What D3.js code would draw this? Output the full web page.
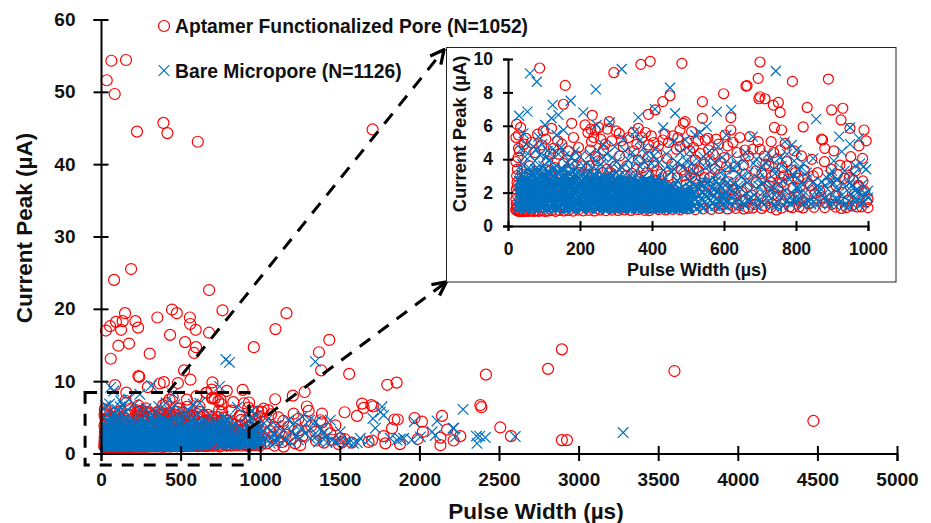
<!DOCTYPE html>
<html>
<head>
<meta charset="utf-8">
<script src="https://cdn.jsdelivr.net/npm/d3@7"></script>
<style>
  body { margin: 0; background: #fff; }
  text { font-family: "Liberation Sans", Arial, sans-serif; font-weight: bold; fill: #111; }
</style>
</head>
<body>
<svg id="chart" width="931" height="523"></svg>
<script>
// [pulse width us, current peak uA]
const aptamerHigh = [
  [36,51.6],[65,54.3],[157,54.4],[86,49.7],[226,44.5],[392,45.7],[417,44.3],[608,43.1],[1706,44.8],
  [82,24],[189,25.5],[679,22.6],[31,17],[57,17.6],[94,18.2],[136,18.3],[151,19.4],[126,17.1],[216,18.3],[233,17.4],
  [109,14.9],[176,15.2],[61,13.1],[354,18.8],[446,19.9],[476,19.4],[434,16.4],[558,18.8],[560,17.9],[595,17.1],
  [528,15.4],[597,14.7],[585,13.9],[679,16.7],[763,19.8],[306,13.8],[522,11.5],[1096,17.2],[1165,19.4],[960,14.7],
  [1369,14],[1434,15.7],[1383,11.5],[1559,11],[1798,9.5],[1857,9.8],[235,10.7],[241,10.6],[562,10.2],
  [2895,14.4],[2808,11.7],[2418,10.9],[3602,11.4],[4475,4.5],[2383,6.7],[2389,6.4],[2508,3.6],[2575,2.4],[2895,1.85],[2927,1.85],
  [2257,2.4],[2215,1.8],[2174,3.3],[2142,5.2],[2132,1.15]
];
const aptamerWide = [
  [1094,7.5],[1205,8],[1279,8.5],[1530,5.7],[1608,5.2],[1640,6.9],[1650,6.3],[1698,6.7],[1708,6.5],[1843,4.7],[1864,4.7],
  [1828,3.5],[1775,2.4],[1786,1.4],[1878,1.3],[1681,1.6],[1702,1.8],[1970,4.9],[2016,4.4],[2022,3],[1989,2],[2132,2.2],
  [1293,6.5],[1304,5.9],[1210,5.5],[1388,5.5],[1377,4.6],[1388,4.3],[1472,3.9],[1503,2.1],[1514,1.6],[1493,1.3],[1147,0.95],
  [1021,6.2],[1010,5.8],[1115,5],[1145,4.5],[1241,3.2],[1251,1.15],[1136,1.6],[1073,2.3],[1346,3],[1440,2.8],[1050,6],[1068,5.4],
  [1030,4.4],[1085,3.6],[1120,3],[1160,2.6],[1190,2],[1220,1.4],[1040,1.4],[1090,1.1],[1175,3.7],[1265,2.4],[1320,3.8],[1350,1.8],
  [1400,1.5],[1455,1.9],[1420,3.4],[1285,4.5],[1240,4.8],[1060,3.1],[1110,1.8],[1575,1.5],[1530,2]
];
const aptamerScatter = [
  [88,9.46],[159,8.42],[294,9.18],[369,9.68],[395,9.86],[483,9.74],[154,7.29],[450,7.8],[430,7.45],[409,6.95],[390,6.69],[234,6.63],
  [24,6.1],[177,6.15],[214,6.05],[230,5.8],[242,5.75],[281,6.25],[276,5.8],[29,5.45],[22,5.3],[50,5.25],[98,5.7],[121,5.85],
  [309,5.55],[320,4.75],[362,5.85],[487,6.15],[478,5.75],[430,5.15],[390,4.85],[413,4.35],[232,5.05],[228,4.55],[242,4.15],[265,4.55],
  [29,4.65],[22,3.85],[94,4.85],[126,4.65],[154,3.75],[297,3.55],[344,3.15],[362,3.95],[441,4.05],[482,3.35],[478,4.75],[390,4.15],
  [700,9.82],[695,8.84],[790,8.66],[890,8.8],[664,8.4],[661,8.38],[599,7.92],[700,7.74],[697,7.62],[714,7.62],[540,7.45],[737,7.24],
  [751,7.4],[756,6.8],[831,7.1],[899,6.95],[930,7.05],[925,6.35],[619,6.49],[540,6.45],[820,5.93],[950,5.85],[989,5.75],[740,5.9],
  [760,5.75],[995,5.1],[975,4.8],[871,5.2],[874,5.15],[880,4.65],[844,3.99],[879,3.85],[952,4.15],[985,4.05],[922,3.65],[941,3.6],
  [958,2.8],[935,2.85],[975,2.35],[731,5.05],[695,5.05],[672,5.35],[658,4.55],[619,5.75],[603,5.45],[644,5.3],[555,5.25],[548,5.15],
  [510,5.65],[492,6.25],[756,4.55],[770,4.95],[742,3.15],[732,2.95],[728,2.65],[705,3.15],[654,3.65],[631,3.55],[607,3.55],[534,4.35],
  [520,3.95],[557,4.55],[520,2.85],[510,2.95],[806,2.85],[823,3.35],[788,3.35],[774,3.85],[746,0.96],[668,1.06],[640,1.25],[631,1.95],
  [649,2.05],[645,2.65],[612,2.65],[677,1.85],[705,2.15],[782,1.15],[809,1.15],[836,1.35],[853,1.95],[926,1.05],[982,1.15],[996,1.45],
  [945,1.55],[973,2.45],[806,1.75],[783,1.65],[570,4.3],[585,4.9],[600,4.1],[625,5],[680,4.6],[712,4.2],[725,3.6],[765,3],[795,4.5],
  [815,4.2],[660,3.1],[690,2.6],[750,2.3],[860,3.2],[905,4.5],[915,3.1],[965,3.3],[990,2.1],[840,2.4],[870,1.7],[900,1.3],[955,1.2],
  [60,3.6],[75,4.4],[110,3.9],[140,4.3],[170,3.4],[190,4.2],[205,3.6],[250,3.9],[285,3.2],[310,4.2],[330,3.6],[350,4.5],[375,3.5],
  [405,3.6],[425,3.1],[455,3.7],[470,2.9],[500,3.6],[505,4.5],[530,3.3],[560,2.9],[590,3.1]
];
const aptamerExtra = [
  [35,5.9],[45,4.9],[65,5.0],[82,5.5],[105,5.2],[118,4.3],[138,5.1],[150,4.9],[168,4.5],[182,5.3],[196,4.7],[222,5.6],[238,5.3],[252,5.9],
  [258,5.2],[270,4.9],[288,5.1],[300,5.7],[315,5.1],[335,5.3],[348,5.6],[358,4.9],[372,5.3],[382,5.6],[398,5.4],[405,5.0],[418,4.8],[436,5.5],
  [446,5.0],[458,5.4],[468,4.6],[472,5.3],[498,5.0],[515,4.7],[528,5.1],[546,3.7],[562,3.9],[578,5.2],[592,3.8],[610,4.8],[636,4.4],[668,4.2],
  [688,3.3],[700,4.6],[716,3.7],[738,4.4],[748,4.0],[762,3.5],[778,2.8],[798,3.2],[812,2.4],[832,2.6],[848,3.0],[866,2.1],[888,2.6],[898,3.4],
  [912,2.4],[930,2.0],[948,2.9],[962,1.9],[986,2.7],[1000,1.6],[725,2.4],[738,1.9],[760,2.6],[770,1.9],[792,2.3],[652,1.5],[686,1.3],[714,1.2],
  [600,1.3],[622,1.6],[664,2.3],[600,2.3],[575,3.4],[545,2.9],[515,3.4],[490,3.0],[445,3.0],[415,3.3],[385,3.2],[355,3.0],[325,3.0],[275,3.4],
  [262,3.2],[225,3.6],[180,3.7],[130,3.5],[90,3.3],[40,3.1],[26,2.4],[28,4.1],[32,4.5]
];
const aptamerDense = [
  [22,1.0],[23,1.3],[22,1.6],[24,1.9],[23,2.2],[25,2.6],[24,3.0],[26,3.4],[22,0.95],[25,1.15],[27,0.9],[30,0.88],[33,0.92],[37,0.86],
  [41,0.9],[46,0.87],[52,0.91],[58,0.88],[64,0.92],[71,0.87],[78,0.9],[86,0.88],[94,0.92],[103,0.87],[112,0.9],[121,0.93],[132,0.88],
  [143,0.94],[155,0.9],[168,0.93],[181,0.89],[195,0.95],[209,0.91],[224,0.94],[240,0.9],[256,0.96],[272,0.92],[289,0.95],[306,0.93],
  [324,0.97],[342,0.93],[361,0.98],[380,0.94],[393,0.92],[418,0.98],[438,0.96],[458,1.0],[478,0.97],[499,1.02],[520,0.98],[542,1.03],
  [565,1.0],[587,1.05],[610,1.02],[633,1.06],[655,1.02],[680,1.08],[705,1.05],[730,1.1],[760,1.07],[790,1.1],[820,1.08],[850,1.12],
  [880,1.1],[910,1.13],[940,1.1],[970,1.14],[1000,1.1],[35,2.3],[48,2.9],[62,2.2],[80,3.1],[98,2.6],[118,3.3],[135,2.4],[152,3.0],
  [175,2.5],[198,3.2],[220,2.7],[245,3.1],[268,2.4],[292,3.0],[318,2.6],[338,2.3],[365,2.8],[388,2.2],[412,2.7],[440,2.4],[465,2.1],
  [495,2.5],[515,2.0],[545,2.4],[575,2.0],[600,1.7],[622,2.2],[660,1.6],[720,1.5],[750,1.8],[820,1.5],[880,1.4],[910,1.8]
];
const bareScatter = [
  [61,9.14],[80,8.64],[316,9.4],[244,8.18],[450,8.28],[174,7.5],[124,7.25],[209,6.8],[54,6.85],[31,6.6],[140,6.65],[121,6.45],[103,6.05],
  [154,5.75],[135,5.45],[246,6.05],[283,6.2],[362,6.5],[408,7],[464,6.75],[431,5.9],[353,5.65],[320,5.2],[265,4.85],[367,5.15],[376,4.65],
  [297,4.75],[459,5.05],[492,5.15],[186,4.45],[84,5.35],[43,5.55],[70,4.75],[47,4.15],[89,4.25],[117,3.95],[163,3.75],[200,4.15],[219,3.75],
  [265,4.15],[302,3.85],[334,3.95],[367,3.55],[399,3.75],[431,3.35],[455,3.25],[487,3.55],[744,9.28],[620,6.95],[580,6.85],[856,6.4],[950,5.9],
  [920,5.35],[975,5.25],[680,5.35],[607,5.45],[533,5.6],[552,5.95],[520,5.45],[788,4.85],[769,5.05],[802,4.55],[927,4.45],[987,3.55],[978,3.75],
  [894,3.05],[871,2.65],[848,4.05],[820,3.75],[723,4.35],[682,3.75],[621,4.15],[584,4.75],[543,4.15],[510,3.75],[612,3.55],[566,3.35],[649,2.95],
  [696,2.85],[742,3.15],[779,3.35],[806,2.85],[40,3.7],[58,3.5],[75,3.9],[98,3.6],[110,4.5],[140,4.3],[130,3.5],[175,4.1],[152,3.4],[190,3.5],
  [235,3.5],[250,4.5],[280,3.6],[318,3.5],[345,4.4],[385,4.3],[410,4.6],[440,4.3],[470,3.8],[500,3.2],[525,3.1],[555,3.9],[590,3.2],[635,3.7],
  [660,4.4],[705,3.5],[755,4.1],[795,3.9],[830,3.2],[905,3.9],[950,4.9],[960,3.1],[1000,2.1],[995,3.4]
];
const bareUpper = [
  [36,4.6],[52,4.9],[62,4.2],[78,4.6],[95,4.9],[105,4.1],[125,4.6],[148,4.7],[158,4.2],[170,3.6],[185,3.9],[210,3.6],[228,4.3],[242,3.9],
  [258,3.7],[275,4.3],[290,4.1],[308,3.4],[325,4.5],[340,3.4],[355,4.0],[378,3.9],[392,3.3],[405,4.2],[420,3.8],[445,3.6],[462,3.4],[478,4.4],
  [495,3.9],[505,4.5],[515,3.3],[530,3.9],[548,3.5],[560,4.5],[575,3.8],[595,4.1],[605,3.0],[628,3.4],[640,3.1],[655,3.9],[668,3.2],[690,4.0],
  [700,3.2],[715,3.8],[730,4.0],[738,3.4],[760,3.6],[775,4.3],[790,3.1],[810,3.4],[835,2.9],[860,2.4],[885,2.9],[900,3.3],[915,2.8],[935,3.3],
  [950,2.6],[965,3.6],[985,2.5],[35,3.4],[68,3.2],[85,3.4],[112,3.3],[145,3.4],[180,3.3],[215,3.2],[250,3.3],[285,3.1],[310,3.0],[350,3.0],
  [375,2.9],[410,2.8],[435,2.9],[470,2.7],[505,2.7],[535,2.6],[560,2.7],[585,2.5],[610,2.6],[640,2.4],[670,2.7],[705,2.5],[735,2.4],[765,2.7],
  [800,2.3],[820,2.5],[845,2.6],[870,2.2],[895,2.6],[925,2.6],[955,2.4],[975,2.1],[600,1.8],[625,2.1],[655,1.3],[675,1.7],[705,1.4],[725,1.8],
  [745,1.2],[760,2.0],[790,1.5],[810,1.9],[825,1.4],[855,1.3],[880,1.7],[905,1.3],[925,1.5],[945,1.2],[965,1.7],[985,1.4],[1000,1.7]
];
const bareWide = [
  [1346,12.7],[784,13],[807,12.6],[1765,6.45],[1755,5.75],[1776,5.3],[1708,4.85],[1723,3.5],[1968,4.4],[2111,4.5],[2080,3],[2100,2.5],[2216,3.5],
  [2274,6.1],[1901,2.1],[1859,1.85],[1817,2.1],[1880,2],[1953,1.9],[2006,2.3],[1681,1.85],[1629,2.1],[1587,1.4],[1545,1.6],[1503,1.85],[1440,4.6],
  [1346,4.4],[1262,5.1],[1210,4.1],[1178,4.6],[1503,3],[1398,2.8],[1367,1.6],[1451,1.85],[1314,2.1],[1283,2.8],[1231,2.5],[1147,3.2],[1084,2.8],
  [1042,4.6],[1031,2.1],[1115,1.85],[1189,1.6],[1063,1.4],[3280,2.9],[2602,2.35],[2414,2.2],[2379,2.4],[2358,2.4],[2362,1.4],[2211,3.5],[2226,2.3],
  [1010,1.5],[1025,3.2],[1050,3.6],[1070,2.2],[1095,1.6],[1125,2.6],[1100,3.9],[1160,1.9],[1200,3],[1240,1.9],[1260,3.5],[1320,3.4],[1350,2.3],
  [1410,2.2],[1475,1.6],[1420,1.5],[1560,1.5],[1610,1.5],[1310,4.6],[1380,3.5]
];
const bareLeft = [
  [31,1.1],[36,1.5],[33,2.0],[38,2.5],[30,1.3],[35,1.8],[40,1.2],[34,2.2],[39,2.9],[42,1.6],[37,3.1],[44,2.0],[32,2.7],[41,2.3],[46,1.1],
  [48,1.4],[45,1.8],[50,2.2],[47,2.6],[52,3.0],[49,1.2],[54,1.6],[51,2.0],[56,2.4],[53,2.8],[58,3.3],[55,1.05],[60,1.3],[57,1.75],[62,2.15],
  [59,2.55],[64,2.95],[61,1.5],[66,1.15],[63,1.9],[68,2.3],[65,2.7],[70,3.1],[67,1.35],[72,1.7],[69,2.1],[74,2.5],[71,2.9],[76,3.4],
  [73,1.1],[78,1.5],[75,1.9],[80,2.3],[77,2.75],[82,3.15],[79,1.25],[84,1.65],[81,2.05],[86,2.45],[83,2.85],[88,3.3],[85,1.05],[90,1.4],
  [87,1.85],[92,2.2],[89,2.6],[94,3.0],[91,1.2],[96,1.55],[93,2.0],[98,2.4],[95,2.8],[100,3.35],[97,1.1],[102,1.45],[99,1.8],[104,2.25],
  [101,2.65],[106,3.05],[103,1.3],[108,1.7],[105,2.1],[110,2.5],[107,2.95],[112,3.25],[109,1.05],[114,1.5],[111,1.95],[116,2.35],[113,2.75],
  [118,3.1],[115,1.2],[120,1.6],[117,2.0],[122,2.4],[119,2.85],[124,3.4],[121,1.1],[126,1.4],[123,1.8],[128,2.2],[125,2.6],[130,3.0],
  [127,1.25],[132,1.65],[129,2.05],[134,2.5],[131,2.9],[136,3.2],[133,1.05],[138,1.5],[135,1.9],[140,2.3],[137,2.7],[142,3.15],[139,1.2],
  [144,1.6],[141,2.0],[146,2.45],[143,2.8],[148,3.3],[145,1.1],[150,1.45],[147,1.85],[152,2.25],[149,2.65],[154,3.05],[151,1.3],[156,1.7],
  [153,2.15],[158,2.55],[155,2.95],[160,1.05],[157,1.4],[162,1.8],[159,2.2],[164,2.6],[161,3.0],[166,1.2],[163,1.55],[168,1.95],[165,2.35],
  [170,2.75],[167,3.2],[172,1.1],[169,1.5],[174,1.9],[171,2.3],[176,2.7],[173,3.1],[178,1.25],[175,1.65],[180,2.05],[177,2.45],[182,2.85],
  [179,1.05],[184,1.4],[181,1.8],[186,2.2],[183,2.6],[188,3.0],[185,1.15],[190,1.55],[187,1.95],[192,2.4],[189,2.8],[194,3.25],[191,1.3],
  [196,1.7],[193,2.1],[198,2.5],[195,2.95],[200,1.1],[197,1.45],[202,1.85],[199,2.25],[204,2.65],[201,3.05],[206,1.2],[203,1.6],[208,2.0],
  [205,2.4],[210,2.85],[207,1.05],[212,1.35],[209,1.75],[214,2.15],[211,2.55],[216,3.0],[213,1.25],[218,1.65],[215,2.05],[220,2.45],[217,2.9],
  [222,1.1],[219,1.5],[224,1.9],[221,2.3],[226,2.7],[223,3.15],[228,1.2],[225,1.6],[230,2.0],[227,2.4],[232,2.8],[229,1.05],[234,1.45],
  [231,1.85],[236,2.25],[233,2.65],[238,3.1],[235,1.3],[240,1.7],[237,2.1],[242,2.5],[239,2.95]
];
const bareMiddle = [
  [244,1.1],[241,1.5],[246,1.9],[243,2.3],[248,2.7],[245,3.0],[250,1.25],[247,1.65],[252,2.05],[249,2.45],[254,2.85],[251,1.05],[256,1.4],
  [253,1.8],[258,2.2],[255,2.6],[260,3.05],[257,1.2],[262,1.6],[259,2.0],[264,2.4],[261,2.8],[266,1.1],[263,1.45],[268,1.85],[265,2.25],
  [270,2.65],[267,1.3],[272,1.7],[269,2.1],[274,2.5],[271,2.9],[276,1.05],[273,1.5],[278,1.95],[275,2.35],[280,2.75],[277,1.2],[282,1.6],
  [279,2.0],[284,2.45],[281,2.85],[286,1.1],[283,1.4],[288,1.8],[285,2.2],[290,2.6],[287,3.0],[292,1.25],[289,1.65],[294,2.05],[291,2.5],
  [296,1.05],[293,1.45],[298,1.9],[295,2.3],[300,2.7],[297,1.15],[302,1.55],[299,2.0],[304,2.4],[301,2.8],[306,1.3],[303,1.7],[308,2.1],
  [305,2.55],[310,1.1],[307,1.5],[312,1.9],[309,2.3],[314,2.7],[311,1.2],[316,1.6],[313,2.0],[318,2.45],[315,2.85],[320,1.05],[317,1.4],
  [322,1.8],[319,2.2],[324,2.6],[321,1.25],[326,1.65],[323,2.05],[328,2.5],[325,1.1],[330,1.5],[327,1.95],[332,2.35],[329,2.75],[334,1.2],
  [331,1.6],[336,2.0],[333,2.4],[338,1.05],[335,1.45],[340,1.85],[337,2.25],[342,2.65],[339,1.3],[344,1.7],[341,2.1],[346,2.55],[343,1.1],
  [348,1.5],[345,1.9],[350,2.3],[347,2.8],[352,1.2],[349,1.6],[354,2.0],[351,2.45],[356,1.05],[353,1.4],[358,1.8],[355,2.2],[360,2.6],
  [357,1.25],[362,1.65],[359,2.05],[364,2.5],[361,1.1],[366,1.5],[363,1.95],[368,2.35],[365,1.2],[370,1.6],[367,2.0],[372,2.4],[369,2.8],
  [374,1.05],[371,1.45],[376,1.85],[373,2.25],[378,2.65],[375,1.3],[380,1.7],[377,2.1],[382,1.1],[379,1.5],[384,1.9],[381,2.3],[386,2.7],
  [383,1.2],[388,1.6],[385,2.0],[390,2.45],[387,1.05],[392,1.4],[389,1.8],[394,2.2],[391,2.6],[396,1.25],[393,1.65],[398,2.05],[395,2.5],
  [400,1.1],[397,1.5],[402,1.9],[399,2.35],[404,1.2],[401,1.6],[406,2.0],[403,2.4],[408,1.05],[405,1.45],[410,1.85],[407,2.25],[412,2.7],
  [409,1.3],[414,1.7],[411,2.1],[416,1.1],[413,1.5],[418,1.9],[415,2.3],[420,1.2],[417,1.6],[422,2.0],[419,2.45],[424,1.05],[421,1.4],
  [426,1.8],[423,2.2],[428,2.6],[425,1.25],[430,1.65],[427,2.05],[432,1.1],[429,1.5],[434,1.95],[431,2.35],[436,1.2],[433,1.6],[438,2.0],
  [440,1.05],[437,1.45],[442,1.85],[439,2.25],[444,1.3],[441,1.7],[446,2.15],[448,1.1],[445,1.5],[450,1.9],[447,2.4],[452,1.2],[449,1.6],
  [454,2.0],[456,1.05],[453,1.4],[458,1.8],[455,2.3],[460,1.25],[457,1.65],[462,2.05],[464,1.1],[461,1.5],[466,1.95],[468,1.2],[465,1.6],
  [470,2.1],[472,1.05],[469,1.45],[474,1.85],[476,1.3],[473,1.7],[478,2.2],[480,1.1],[477,1.5],[482,1.95],[484,1.2],[481,1.6],[486,2.05],
  [488,1.05],[485,1.4],[490,1.8],[492,1.25],[489,1.65],[494,2.15],[496,1.1],[493,1.5],[498,1.9],[500,1.2],[497,1.6]
];
const bareRight = [
  [504,1.1],[508,1.5],[512,1.9],[506,2.3],[516,1.2],[520,1.6],[514,2.0],[524,1.05],[528,1.45],[522,2.4],[532,1.8],[536,1.2],[530,2.2],[540,1.55],
  [544,1.1],[538,2.5],[548,1.9],[552,1.3],[546,2.2],[556,1.65],[560,1.15],[554,2.6],[564,2.0],[568,1.4],[572,1.75],[576,1.2],[566,2.3],[580,2.05],
  [584,1.5],[588,1.1],[578,2.7],[592,1.85],[596,1.3],[600,1.6],[590,2.4],[604,1.95],[608,1.15],[612,1.45],[616,2.2],[620,1.7],[624,1.25],[628,2.5],
  [632,1.55],[636,1.9],[640,1.15],[644,2.3],[648,1.4],[652,1.8],[660,1.25],[664,2.6],[668,1.6],[672,2.1],[680,1.35],[684,1.85],[690,1.2],[696,2.4],
  [700,1.6],[708,2.0],[712,1.3],[718,2.7],[724,1.5],[730,2.2],[736,1.25],[740,1.85],[748,1.4],[752,2.5],[758,1.7],[764,1.2],[770,2.1],[776,1.55],
  [782,2.8],[786,1.3],[792,1.9],[798,1.45],[804,2.3],[812,1.6],[818,1.25],[826,2.0],[834,1.5],[842,1.3],[850,1.75],[858,2.15],[866,1.4],[874,1.85],
  [880,2.4],[886,1.5],[892,1.3],[898,2.0],[904,2.6],[910,1.6],[916,2.2],[922,1.4],[928,1.85],[934,1.25],[940,2.4],[946,1.5],[952,1.9],[958,1.3],
  [964,2.1],[970,1.55],[976,1.25],[982,1.8],[988,1.4],[994,1.9]
];

const xTicksMain = [0,500,1000,1500,2000,2500,3000,3500,4000,4500,5000];
const yTicksMain = [0,10,20,30,40,50,60];
const xTicksInset = [0,200,400,600,800,1000];
const yTicksInset = [0,2,4,6,8,10];

const aptamer = aptamerHigh.concat(aptamerWide, aptamerScatter, aptamerExtra, aptamerDense);
const bare = bareScatter.concat(bareUpper, bareWide, bareRight, bareLeft, bareMiddle);

const red = "#ff0000", blue = "#0070c0";

const svg = d3.select("#chart");

// strokes merge in the crowded low part of the cloud, thinning out towards long pulses
function bareStroke(d) {
  if (d[1] > 2.75) return 1.2;
  if (d[0] < 430) return 2.3;
  if (d[0] < 520) return 2;
  if (d[0] < 620) return 1.6;
  return 1.2;
}

function drawMarks(g, x, y, r, h) {
  g.selectAll("circle.apt").data(aptamer.filter(d => d[0] <= x.domain()[1] && d[1] <= y.domain()[1]))
    .join("circle").attr("class", "apt")
    .attr("cx", d => x(d[0])).attr("cy", d => y(d[1])).attr("r", r)
    .attr("fill", "none").attr("stroke", red).attr("stroke-width", 1.2);
  g.selectAll("path.bare").data(bare.filter(d => d[0] <= x.domain()[1] && d[1] <= y.domain()[1]))
    .join("path").attr("class", "bare")
    .attr("transform", d => `translate(${x(d[0])},${y(d[1])})`)
    .attr("d", `M${-h},${-h}L${h},${h}M${-h},${h}L${h},${-h}`)
    .attr("fill", "none").attr("stroke", blue).attr("stroke-width", bareStroke);
}

function drawAxes(g, x, y, xTicks, yTicks, o) {
  const xAxis = d3.axisBottom(x).tickValues(xTicks).tickFormat(d3.format("d")).tickSizeOuter(0).tickSize(o.tick).tickPadding(o.xPad);
  const yAxis = d3.axisLeft(y).tickValues(yTicks).tickFormat(d3.format("d")).tickSizeOuter(0).tickSize(o.tick).tickPadding(o.yPad);
  const gx = g.append("g").attr("transform", `translate(0,${y(0)})`).call(xAxis);
  const gy = g.append("g").attr("transform", `translate(${x(0)},0)`).call(yAxis);
  gx.selectAll(".tick line").attr("y1", -o.tick);
  gy.selectAll(".tick line").attr("x1", o.tick);
  [gx, gy].forEach(a => {
    a.attr("font-family", null).attr("font-size", null);
    a.selectAll("text").style("font-size", o.font + "px").attr("fill", null);
    a.selectAll("line,path").attr("stroke", "#000").attr("stroke-width", o.line);
  });
}

// main chart
const xMain = d3.scaleLinear().domain([0, 5000]).range([101, 897]);
const yMain = d3.scaleLinear().domain([0, 60]).range([453.5, 19.5]);

const mainG = svg.append("g");
drawMarks(mainG, xMain, yMain, 5.5, 5.3);
drawAxes(mainG, xMain, yMain, xTicksMain, yTicksMain, { tick: 7.5, xPad: 12, yPad: 18, font: 19, line: 2 });

svg.append("text").attr("x", 536).attr("y", 519).attr("text-anchor", "middle")
  .style("font-size", "22.5px").text("Pulse Width (µs)");
svg.append("text").attr("transform", "translate(32,228) rotate(-90)").attr("text-anchor", "middle")
  .style("font-size", "22.5px").text("Current Peak (µA)");

// legend
svg.append("circle").attr("cx", 164).attr("cy", 26).attr("r", 5.5)
  .attr("fill", "none").attr("stroke", red).attr("stroke-width", 1.2);
svg.append("path").attr("transform", "translate(164,70.5)").attr("d", "M-5.3,-5.3L5.3,5.3M-5.3,5.3L5.3,-5.3")
  .attr("fill", "none").attr("stroke", blue).attr("stroke-width", 1.2);
svg.append("text").attr("x", 175).attr("y", 33).style("font-size", "19.3px").text("Aptamer Functionalized Pore (N=1052)");
svg.append("text").attr("x", 175).attr("y", 77.5).style("font-size", "19.3px").text("Bare Micropore (N=1126)");

// dashed zoom box and the two arrows
svg.append("defs").append("marker").attr("id", "head").attr("viewBox", "0 0 10 10")
  .attr("refX", 8).attr("refY", 5).attr("markerUnits", "userSpaceOnUse")
  .attr("markerWidth", 17).attr("markerHeight", 17).attr("orient", "auto")
  .append("path").attr("d", "M1,1L9,5L1,9").attr("fill", "none").attr("stroke", "#000").attr("stroke-width", 1.9);

svg.append("rect").attr("x", xMain(-100)).attr("y", yMain(8.45))
  .attr("width", xMain(930) - xMain(-100)).attr("height", yMain(-1.6) - yMain(8.45))
  .attr("fill", "none").attr("stroke", "#000").attr("stroke-width", 3).attr("stroke-dasharray", "12,10");

[[xMain(930), yMain(3.4), 445, 283], [xMain(420), yMain(8.45), 443, 51]].forEach(a => {
  svg.append("line").attr("x1", a[0]).attr("y1", a[1]).attr("x2", a[2]).attr("y2", a[3])
    .attr("stroke", "#000").attr("stroke-width", 3).attr("stroke-dasharray", "13,10")
    .attr("marker-end", "url(#head)");
});

// inset
svg.append("rect").attr("x", 446.5).attr("y", 47.5).attr("width", 449.5).attr("height", 234.5)
  .attr("fill", "#fff").attr("stroke", "#222").attr("stroke-width", 1);

const xInset = d3.scaleLinear().domain([0, 1000]).range([508, 868]);
const yInset = d3.scaleLinear().domain([0, 10]).range([226, 59]);

const insetG = svg.append("g");
drawMarks(insetG, xInset, yInset, 5, 5);
drawAxes(insetG, xInset, yInset, xTicksInset, yTicksInset, { tick: 5, xPad: 12, yPad: 10, font: 17.5, line: 2 });

svg.append("text").attr("x", 697).attr("y", 276).attr("text-anchor", "middle")
  .style("font-size", "18px").text("Pulse Width (µs)");
svg.append("text").attr("transform", "translate(466,134) rotate(-90)").attr("text-anchor", "middle")
  .style("font-size", "18.5px").text("Current Peak (µA)");
</script>
</body>
</html>
